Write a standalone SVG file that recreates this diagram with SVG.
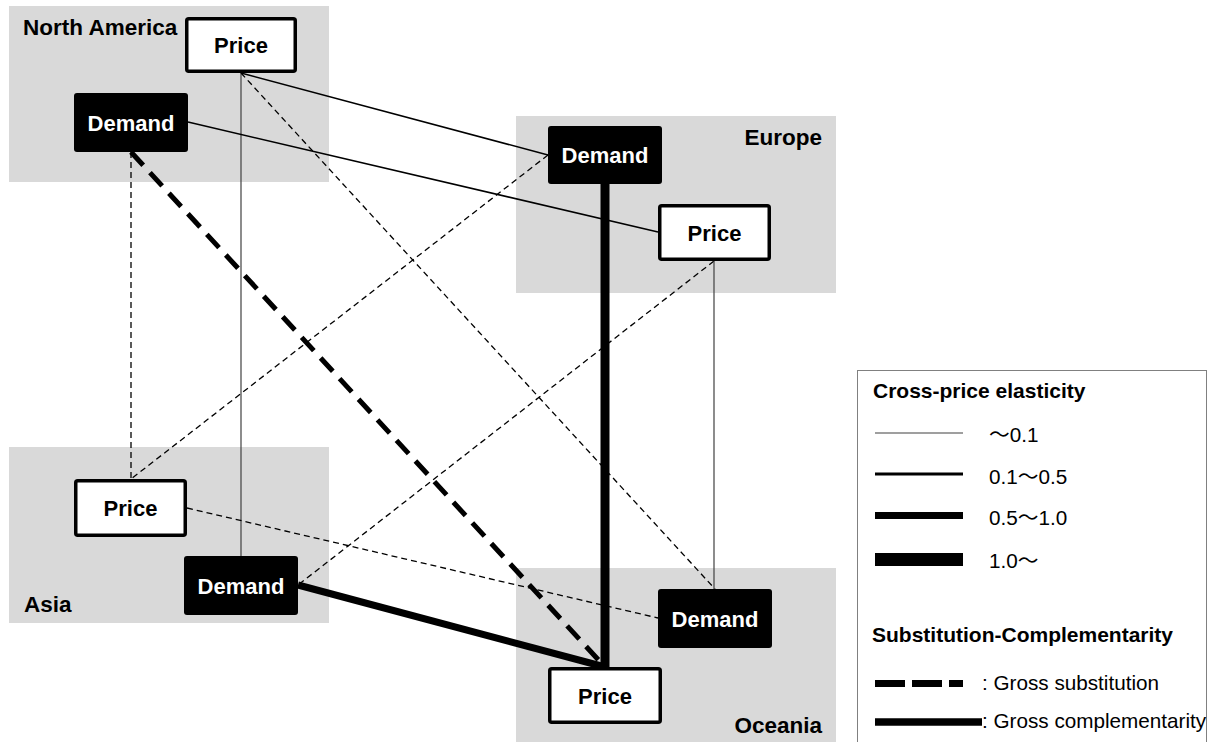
<svg xmlns="http://www.w3.org/2000/svg" width="1212" height="742" viewBox="0 0 1212 742">
<style>
.region{fill:#d9d9d9;}
.rlabel{font-family:"Liberation Sans",Arial,sans-serif;font-weight:bold;font-size:22.5px;fill:#000;}
.pbox{fill:#fff;stroke:#000;stroke-width:3.5;}
.dbox{fill:#000;}
.ntext{font-family:"Liberation Sans",Arial,sans-serif;font-weight:bold;font-size:22px;text-anchor:middle;}
.ptext{fill:#000;}
.dtext{fill:#fff;}
.c{fill:none;stroke:#000;}
.gray{stroke:#404040;stroke-width:1.2;}
.thin{stroke-width:1.5;}
.dash{stroke-width:1.3;stroke-dasharray:6 4;}
.bigdash{stroke-width:5;stroke-dasharray:18 10;}
.lt{font-family:"Liberation Sans",Arial,"Noto Sans CJK JP",sans-serif;font-size:20.7px;fill:#000;}
.lh{font-family:"Liberation Sans",Arial,sans-serif;font-size:21px;font-weight:bold;fill:#000;}
</style>
<g id="regions">
<rect class="region" x="9" y="6" width="320" height="176"/>
<rect class="region" x="516" y="116" width="320" height="177"/>
<rect class="region" x="9" y="447" width="320" height="176"/>
<rect class="region" x="516" y="568" width="320" height="176"/>
<text class="rlabel" x="23" y="35">North America</text>
<text class="rlabel" x="822" y="145" text-anchor="end">Europe</text>
<text class="rlabel" x="24" y="612">Asia</text>
<text class="rlabel" x="822" y="733" text-anchor="end">Oceania</text>
</g>
<g id="connectors">
<path class="c gray" d="M241,73 V556"/>
<path class="c thin" d="M241,73 L548,155"/>
<path class="c dash" d="M241,73 L715,589"/>
<path class="c thin" d="M188,122 L658,232"/>
<path class="c dash" d="M131,152 V479"/>
<path class="c bigdash" d="M131,152 L605,667"/>
<path class="c" stroke-width="9" d="M605,184 V667"/>
<path class="c dash" d="M548,155 L131,479"/>
<path class="c dash" d="M714,261 L298,585"/>
<path class="c gray" d="M714,261 V589"/>
<path class="c dash" d="M187,508 L658,618"/>
<path class="c" stroke-width="7" d="M298,585 L605,667"/>
</g>
<g id="na-price"><rect class="pbox" x="186.75" y="18.75" width="108.5" height="52.5" rx="2"/><text class="ntext ptext" x="241" y="53">Price</text></g>
<g id="na-demand"><rect class="dbox" x="74" y="93" width="114" height="59" rx="3"/><text class="ntext dtext" x="131" y="130.5">Demand</text></g>
<g id="eu-demand"><rect class="dbox" x="548" y="126" width="114" height="58" rx="3"/><text class="ntext dtext" x="605" y="163">Demand</text></g>
<g id="eu-price"><rect class="pbox" x="659.75" y="205.75" width="109.5" height="53.5" rx="2"/><text class="ntext ptext" x="714.5" y="240.5">Price</text></g>
<g id="asia-price"><rect class="pbox" x="75.75" y="480.75" width="109.5" height="54.5" rx="2"/><text class="ntext ptext" x="130.5" y="516">Price</text></g>
<g id="asia-demand"><rect class="dbox" x="184" y="556" width="114" height="59" rx="3"/><text class="ntext dtext" x="241" y="593.5">Demand</text></g>
<g id="oc-demand"><rect class="dbox" x="658" y="589" width="114" height="59" rx="3"/><text class="ntext dtext" x="715" y="626.5">Demand</text></g>
<g id="oc-price"><rect class="pbox" x="549.75" y="668.75" width="110.5" height="53.5" rx="2"/><text class="ntext ptext" x="605" y="703.5">Price</text></g>
<g id="legend">
<rect x="857.5" y="370.5" width="349" height="380" fill="#fff" stroke="#808080" stroke-width="1"/>
<text class="lh" x="873" y="398">Cross-price elasticity</text>
<line x1="875" y1="433" x2="963" y2="433" stroke="#404040" stroke-width="1.2"/>
<text class="lt" x="989" y="442">～0.1</text>
<line x1="875" y1="474" x2="963" y2="474" stroke="#000" stroke-width="3"/>
<text class="lt" x="989" y="484">0.1～0.5</text>
<line x1="875" y1="515.5" x2="963" y2="515.5" stroke="#000" stroke-width="7"/>
<text class="lt" x="989" y="525">0.5～1.0</text>
<line x1="875" y1="559.5" x2="963" y2="559.5" stroke="#000" stroke-width="13"/>
<text class="lt" x="989" y="568">1.0～</text>
<text class="lh" x="872" y="642">Substitution-Complementarity</text>
<line x1="875" y1="683.5" x2="963" y2="683.5" stroke="#000" stroke-width="7" stroke-dasharray="30 7"/>
<text class="lt" x="982" y="690">: Gross substitution</text>
<line x1="875" y1="722" x2="982" y2="722" stroke="#000" stroke-width="7.5"/>
<text class="lt" x="982" y="728">: Gross complementarity</text>
</g>
</svg>
